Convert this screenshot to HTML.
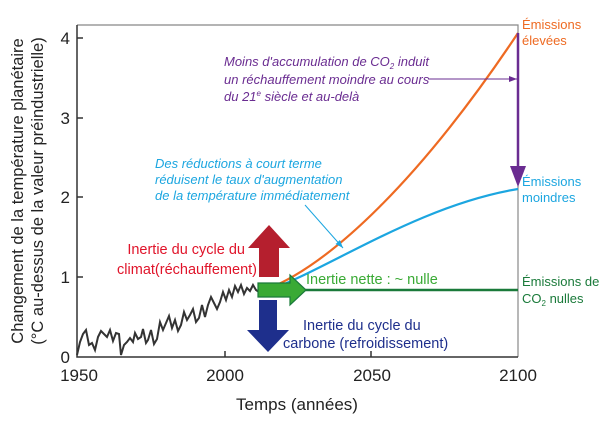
<!DOCTYPE html>
<html><head><meta charset="utf-8"><style>
body{margin:0;background:#fff;width:600px;height:422px;overflow:hidden}
svg{font-family:"Liberation Sans",sans-serif}
</style></head><body>
<svg width="600" height="422" viewBox="0 0 600 422">
<defs>
<marker id="pa" markerWidth="8" markerHeight="6" refX="8" refY="3" orient="auto"><path d="M0,0 L8,3 L0,6z" fill="#6a2c91"/></marker>
<marker id="ba" markerWidth="8" markerHeight="6" refX="8" refY="3" orient="auto"><path d="M0,0 L8,3 L0,6z" fill="#1ca6e0"/></marker>
</defs>
<path d="M77,25 H518 V357" fill="none" stroke="#888" stroke-width="1.2"/>
<path d="M77,25 V357 H518" fill="none" stroke="#333" stroke-width="1.5"/>
<g stroke="#333" stroke-width="1.5">
<line x1="77" y1="38" x2="83" y2="38"/><line x1="77" y1="118" x2="83" y2="118"/><line x1="77" y1="197" x2="83" y2="197"/><line x1="77" y1="277" x2="83" y2="277"/>
<line x1="225" y1="357" x2="225" y2="351"/><line x1="371" y1="357" x2="371" y2="351"/>
</g>
<g font-size="17" fill="#222" text-anchor="end">
<text x="70" y="44">4</text><text x="70" y="124">3</text><text x="70" y="203">2</text><text x="70" y="283">1</text><text x="70" y="363">0</text>
</g>
<g font-size="17" fill="#222" text-anchor="middle">
<text x="79" y="381">1950</text><text x="225" y="381">2000</text><text x="372" y="381">2050</text><text x="518" y="381">2100</text>
</g>
<text x="297" y="410" font-size="17" fill="#222" text-anchor="middle">Temps (années)</text>
<g font-size="16.5" fill="#222" text-anchor="middle">
<text transform="translate(23,191) rotate(-90)">Changement de la température planétaire</text>
<text transform="translate(43,191) rotate(-90)">(°C au-dessus de la valeur préindustrielle)</text>
</g>
<polyline fill="none" stroke="#333" stroke-width="2" points="77,355 80,342 83,334 86,330 89,345 92,343 95,350 98,337 101,331 104,334 107,337 110,330 113,341 116,333 119,334 121,355 124,345 127,342 130,338 133,342 135,333 138,339 141,337 143,329 146,343 148,340 151,330 154,344 157,339 160,322 163,330 166,323 169,316 172,328 175,320 178,331 181,325 184,312 187,320 190,315 193,309 196,322 199,318 202,305 205,317 208,305 211,297 214,303 217,309 220,302 223,292 226,300 229,290 232,297 235,286 238,292 241,285 244,294 247,288 250,291 253,285 256,290 259,292"/>
<path d="M265,290 C330,265 420,180 518,33" fill="none" stroke="#ee6a22" stroke-width="2.2"/>
<path d="M265,292 C330,268 420,205 518,189" fill="none" stroke="#1ca6e0" stroke-width="2.2"/>
<line x1="265" y1="290" x2="518" y2="290" stroke="#1a7a3a" stroke-width="2.5"/>
<path d="M258,283 H290 V275 L306,290 L290,305 V297 H258z" fill="#3aaa35" stroke="#1a7a3a" stroke-width="1.2"/>
<path d="M259,277 V248 H248 L269,225 L290,248 H279 V277z" fill="#b51f2e"/>
<path d="M259,300 V330 H247 L268,352 L289,330 H277 V300z" fill="#1e2f8c"/>
<line x1="518" y1="33" x2="518" y2="168" stroke="#6a2c91" stroke-width="2.5"/>
<path d="M510,166 L526,166 L518,187z" fill="#6a2c91"/>
<line x1="428" y1="79" x2="517" y2="79" stroke="#6a2c91" stroke-width="1" marker-end="url(#pa)"/>
<line x1="305" y1="205" x2="343" y2="248" stroke="#1ca6e0" stroke-width="1" marker-end="url(#ba)"/>
<g font-size="13" font-style="italic" fill="#6a2c91">
<text x="224" y="66">Moins d'accumulation de CO<tspan font-size="8" dy="3">2</tspan><tspan dy="-3"> induit</tspan></text>
<text x="224" y="84">un réchauffement moindre au cours</text>
<text x="224" y="101">du 21<tspan font-size="8" dy="-5">e</tspan><tspan dy="5"> siècle et au-delà</tspan></text>
</g>
<g font-size="13" font-style="italic" fill="#1ca6e0">
<text x="155" y="168">Des réductions à court terme</text>
<text x="155" y="184">réduisent le taux d'augmentation</text>
<text x="155" y="200">de la température immédiatement</text>
</g>
<g font-size="14.5" fill="#e0142a" text-anchor="end">
<text x="245" y="254">Inertie du cycle du</text><text x="257" y="274">climat(réchauffement)</text>
</g>
<text x="306" y="284" font-size="14.5" fill="#3aaa35">Inertie nette : ~ nulle</text>
<g font-size="14.5" fill="#1e2f8c">
<text x="303" y="330">Inertie du cycle du</text><text x="283" y="348">carbone (refroidissement)</text>
</g>
<g font-size="13" fill="#ee6a22"><text x="522" y="29">Émissions</text><text x="522" y="45">élevées</text></g>
<g font-size="13" fill="#1ca6e0"><text x="522" y="186">Émissions</text><text x="522" y="202">moindres</text></g>
<g font-size="13" fill="#1a7a3a"><text x="522" y="286">Émissions de</text><text x="522" y="303">CO<tspan font-size="8" dy="3">2</tspan><tspan dy="-3"> nulles</tspan></text></g>
</svg>
</body></html>
